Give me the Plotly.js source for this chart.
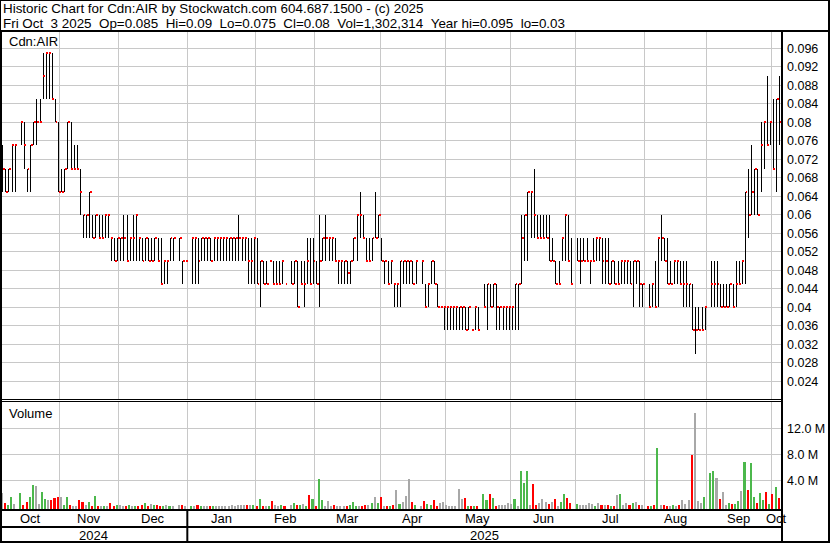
<!DOCTYPE html>
<html><head><meta charset="utf-8">
<script src="https://cdn.plot.ly/plotly-3.0.1.min.js"></script>
<style>
html,body{margin:0;padding:0;background:#fff;overflow:hidden;}
#chart{width:830px;height:543px;}
.js-line{shape-rendering:crispEdges;}
</style></head>
<body><div id="chart"></div>
<script>
// Daily sessions, Oct 4 2024 .. Oct 3 2025 (index 1..251); null = no trade
const hi = [
.075,.07,.07,.075,.075,null,.08,.08,.07,.075,
.08,.085,.085,.095,.095,.095,.095,.085,.08,.07,
.07,.08,.08,.075,.075,.07,.06,.06,.065,.06,
.06,.06,.06,.06,.06,.055,.055,.055,.055,.06,
.06,.055,.06,.06,.055,.055,.055,.055,.055,.055,
.055,.055,.05,.05,.055,.055,null,.055,.05,.05,
null,.055,.055,.055,.055,.055,.055,.055,.055,.055,
.055,.055,.055,.055,.055,.055,.06,.055,.055,.055,
.055,.055,.055,.05,.05,.05,.05,.05,.05,.05,
.05,.045,null,.05,.05,.05,.05,.05,.055,.055,
.055,.05,.06,.055,.06,.055,.055,.055,.05,.05,
.05,.05,.05,.055,.06,.065,.06,.055,.055,.055,
.065,.06,.055,.05,.05,.05,.045,.045,.05,.05,
.05,.05,.05,.05,null,.05,.045,.045,.05,.05,
.045,.04,.04,.04,.04,.04,.04,.04,.04,.04,
.04,.035,.04,.04,null,.045,.045,.045,.045,.045,
.04,.04,.04,.04,.04,.045,.045,.06,.06,.065,
.065,.07,.06,.06,.06,.06,.06,.055,.05,.05,
.055,.06,.06,.055,null,.055,.055,.055,.055,.05,
.055,.055,.055,.055,.055,.055,.05,.05,.05,.05,
.05,.05,.05,.05,.05,.05,.045,null,.045,.045,
.05,.055,.06,.055,.055,.05,.05,.05,.05,.05,
.05,.045,.045,.04,.04,.04,.04,null,.05,.05,
.05,.045,.045,.045,.045,.045,.05,.05,.05,.065,
.07,.075,.07,.07,.08,.08,.09,.08,.085,.085,.09];
const lo = [
.065,.065,.065,.065,.065,null,.075,.07,.065,.065,
.075,.075,.08,.085,.085,.085,.085,.08,.065,.065,
.065,.07,.07,.07,.07,.06,.055,.055,.055,.055,
.055,.055,.055,.055,.055,.05,.05,.05,.05,.05,
.05,.05,.05,.05,.05,.05,.05,.05,.05,.05,
.05,.045,.045,.045,.05,.05,null,.05,.045,.05,
null,.045,.045,.045,.05,.05,.05,.05,.05,.05,
.05,.05,.05,.05,.05,.05,.05,.05,.05,.045,
.045,.045,.045,.04,.045,.045,.05,.045,.045,.045,
.045,.045,null,.045,.045,.04,.045,.04,.045,.045,
.045,.045,.04,.05,.05,.05,.05,.05,.045,.045,
.045,.045,.045,.05,.05,.055,.055,.05,.05,.05,
.055,.055,.05,.045,.045,.045,.04,.04,.04,.045,
.045,.045,.045,.045,null,.045,.04,.04,.045,.045,
.04,.04,.035,.035,.035,.035,.035,.035,.035,.035,
.035,.035,.035,.035,null,.04,.035,.04,.04,.035,
.035,.035,.035,.035,.035,.035,.035,.045,.05,.05,
.055,.055,.055,.055,.055,.055,.05,.05,.045,.045,
.05,.05,.05,.045,null,.05,.045,.05,.05,.045,
.05,.05,.05,.045,.045,.045,.045,.045,.045,.045,
.045,.045,.045,.04,.045,.04,.04,null,.04,.04,
.04,.04,.05,.05,.045,.045,.045,.045,.045,.04,
.04,.04,.035,.03,.035,.035,.035,null,.04,.04,
.04,.04,.04,.04,.04,.04,.04,.045,.045,.045,
.055,.06,.06,.06,.065,.07,.075,.075,.07,.065,.075];
const cl = [
.07,.065,.07,.075,.075,null,.08,.075,.07,.075,
.08,.08,.08,.09,.095,.095,.085,.08,.065,.065,
.07,.08,.07,.07,.07,.065,.06,.06,.065,.055,
.06,.055,.055,.06,.06,.055,.05,.055,.055,.055,
.05,.055,.055,.06,.055,.05,.055,.05,.05,.055,
.05,.045,.05,.05,.055,.055,null,.055,.05,.05,
null,.055,.055,.05,.055,.055,.055,.05,.055,.055,
.055,.055,.055,.055,.055,.055,.055,.055,.055,.05,
.05,.055,.045,.05,.045,.045,.05,.045,.045,.045,
.05,.045,null,.045,.05,.04,.045,.045,.05,.045,
.05,.045,.05,.055,.055,.055,.055,.05,.05,.05,
.05,.0475,.05,.055,.06,.06,.055,.05,.05,.055,
.055,.06,.05,.05,.045,.05,.045,.045,.05,.05,
.05,.05,.045,.05,null,.05,.04,.045,.05,.045,
.04,.04,.04,.04,.04,.04,.04,.04,.04,.035,
.04,.035,.04,.035,null,.04,.045,.04,.045,.04,
.04,.04,.04,.04,.04,.045,.045,.055,.06,.065,
.065,.06,.055,.055,.055,.055,.05,.05,.045,.045,
.055,.06,.05,.045,null,.05,.05,.05,.05,.05,
.05,.055,.055,.05,.05,.045,.05,.045,.045,.05,
.05,.05,.045,.05,.05,.045,.045,null,.04,.045,
.04,.055,.055,.05,.045,.045,.05,.05,.045,.045,
.045,.045,.035,.035,.035,.035,.04,null,.045,.045,
.045,.04,.04,.04,.045,.04,.045,.045,.05,.065,
.06,.065,.07,.06,.075,.08,.075,.08,.07,.085,.08];
// volume, millions of shares
const volM = [
2.05,0.46,0.15,1.43,0.4,null,2.05,0.15,0.7,1.5,
3.3,3.1,0.4,2.2,1.1,0.95,0.95,1.2,1.45,1.45,
0.15,1.45,0.25,0.1,0.05,0.95,0.6,0.15,0.65,0.1,
1.55,0.1,0.1,0.1,0.1,0.5,0.05,0.25,0.2,0.05,
0.05,0.15,0.1,0.05,0.1,0.15,0.5,0.1,0.3,0.25,
0.15,0.05,0.1,0.15,0.05,0.05,null,0.15,0.2,0.05,
null,0.1,0.05,0.25,0.05,0.05,0.1,0.1,0.05,0.1,
0.05,0.1,0.05,0.1,0.15,0.1,0.2,0.15,0.15,0.25,
0.25,0.15,0.1,1.1,0.1,0.1,0.05,0.85,0.25,0.1,
0.15,0.05,null,0.2,0.45,0.25,0.15,0.35,0.1,1.75,
1.05,0.05,4.2,0.95,0.1,0.85,0.05,0.2,0.1,0.1,
0.1,0.1,0.15,0.65,0.1,0.1,0.1,0.15,0.2,0.45,
1.45,0.45,1.45,0.05,0.1,0.1,0.2,2.5,0.35,0.6,
1.6,4.2,0.7,0.25,null,0.05,0.85,0.3,0.25,0.95,
0.1,0.5,0.6,0.15,0.1,0.05,0.05,2.6,1.1,1.25,
0.05,0.05,0.05,0.05,null,1.9,0.95,1.9,1.2,0.1,
0.15,0.15,0.15,0.45,0.35,1.1,0.1,5.5,3.6,5.5,
0.2,3.4,0.2,0.5,1.1,0.65,0.35,0.65,1.1,0.1,
0.65,1.9,1.25,0.5,null,0.35,0.15,0.15,0.15,0.5,
0.35,0.1,0.5,0.2,0.15,0.2,0.1,0.1,1.75,1.9,
0.15,0.5,0.15,0.5,0.65,0.2,0.15,null,0.1,0.1,
0.15,8.9,0.2,0.15,0.05,0.1,0.15,0.05,0.2,0.95,
0.35,0.95,7.9,14.35,0.85,0.5,1.45,null,5.1,5.45,
4.4,1.1,2.2,0.15,0.5,0.35,0.35,0.85,2.35,6.8,
2.5,6.6,1.45,0.5,2.05,0.95,2.2,0.35,1.9,2.98,1.302314];
const volDirOverride = {230:'up', 238:'up', 239:'flat'};

const monthLabels = ['Oct','Nov','Dec','Jan','Feb','Mar','Apr','May','Jun','Jul','Aug','Sep','Oct'];
const monthStart = [20,39,61,83,102,123,144,165,186,208,228,249]; // first session index of Nov..Oct
const yearLabels = ['2024','2025'];
const priceTicks = [0.024,0.028,0.032,0.036,0.04,0.044,0.048,0.052,0.056,0.06,0.064,0.068,0.072,0.076,0.08,0.084,0.088,0.092,0.096];
const priceTickText = ['0.024','0.028','0.032','0.036','0.04','0.044','0.048','0.052','0.056','0.06','0.064','0.068','0.072','0.076','0.08','0.084','0.088','0.092','0.096'];
const volTicks = [4,8,12];
const volTickText = ['4.0 M','8.0 M','12.0 M'];
const titleLine1 = 'Historic Chart for Cdn:AIR by Stockwatch.com 604.687.1500 - (c) 2025';
const titleLine2 = 'Fri Oct  3 2025  Op=0.085  Hi=0.09  Lo=0.075  Cl=0.08  Vol=1,302,314  Year hi=0.095  lo=0.03';
const symbol = 'Cdn:AIR';

// ---------- geometry / style ----------
const PL=2, PR=781, PT=32, PB=509;
const px = x => (x-PL)/(PR-PL);
const py = y => (PB-y)/(PB-PT);
const FONT = 'Liberation Sans, Arial, sans-serif';
const XR = [0.775, 251.42];
const VOLMIN = -0.42;
const GREEN='#4cb84c', RED='#ff0000', GRAY='#a8a8a8';

const N = hi.length;
const idx = hi.map((_,i)=>i+1);

// high-low lines
const hlx=[], hly=[], ckx=[], cky=[];
for(let i=0;i<N;i++){
  if(hi[i]===null) continue;
  hlx.push(idx[i], idx[i], null); hly.push(lo[i], hi[i], null);
  ckx.push(idx[i], idx[i]+0.62, null); cky.push(cl[i], cl[i], null);
}
// volume colours from close-to-close change
const volColor=[]; let prev=null;
for(let i=0;i<N;i++){
  let d='flat';
  if(cl[i]!==null){
    if(prev!==null){ d = cl[i]>prev?'up':(cl[i]<prev?'down':'flat'); }
    prev = cl[i];
  }
  if(volDirOverride[idx[i]]) d = volDirOverride[idx[i]];
  volColor.push(d==='up'?GREEN:(d==='down'?RED:GRAY));
}

const traces = [
  {type:'scatter', mode:'lines', x:hlx, y:hly, line:{color:'#000', width:1}, hoverinfo:'skip', xaxis:'x', yaxis:'y'},
  {type:'scatter', mode:'lines', x:ckx, y:cky, line:{color:RED, width:2}, hoverinfo:'skip', xaxis:'x', yaxis:'y'},
  {type:'bar', x:idx, y:volM.map(v=>v===null?null:v-VOLMIN), base:VOLMIN, width:0.66, offset:-0.66,
   marker:{color:volColor, line:{width:0}}, hoverinfo:'skip', xaxis:'x', yaxis:'y2'}
];

// month boundaries in index space
const grid = monthStart.map(v=>v-0.6);
const bounds = [XR[0], ...grid, XR[1]];
const annotations = [];
monthLabels.forEach((m,k)=>{
  annotations.push({xref:'x', yref:'paper', x:(bounds[k]+bounds[k+1])/2, y:py(518.5), text:m,
    showarrow:false, xanchor:'center', yanchor:'middle', font:{family:FONT, size:13, color:'#000'}});
});
const janGrid = grid[2];
annotations.push({xref:'x', yref:'paper', x:(XR[0]+janGrid)/2-0.4, y:py(535), text:yearLabels[0], showarrow:false, xanchor:'center', yanchor:'middle', font:{family:FONT,size:13,color:'#000'}});
annotations.push({xref:'x', yref:'paper', x:(janGrid+XR[1])/2, y:py(535), text:yearLabels[1], showarrow:false, xanchor:'center', yanchor:'middle', font:{family:FONT,size:13,color:'#000'}});
const sp = s => s.replace(/  /g, ' \u00a0');
annotations.push({xref:'paper', yref:'paper', x:px(1), y:py(8.5), text:sp(titleLine1), showarrow:false, xanchor:'left', yanchor:'middle', font:{family:FONT,size:13.4,color:'#000'}});
annotations.push({xref:'paper', yref:'paper', x:px(1), y:py(23), text:sp(titleLine2), showarrow:false, xanchor:'left', yanchor:'middle', font:{family:FONT,size:13.4,color:'#000'}});
annotations.push({xref:'paper', yref:'paper', x:px(7), y:py(41.5), text:symbol, showarrow:false, xanchor:'left', yanchor:'middle', font:{family:FONT,size:13,color:'#000'}});
annotations.push({xref:'paper', yref:'paper', x:px(7), y:py(413), text:'Volume', showarrow:false, xanchor:'left', yanchor:'middle', font:{family:FONT,size:13,color:'#000'}});

const line = (x0,y0,x1,y1,w)=>({type:'line', xref:'paper', yref:'paper', x0:px(x0), y0:py(y0), x1:px(x1), y1:py(y1), line:{color:'#000', width:w}, layer:'above'});
const shapes = [
  line(0,0.5,830,0.5,1),
  line(0,31,830,31,2),
  line(0.5,0,0.5,31,1),
  line(1,31,1,543,2),
  line(829,0,829,543,2),
  line(782,31,782,543,2),
  line(0,399.5,782,399.5,1),
  line(0,401.5,782,401.5,1),
  line(0,510,782,510,2),
  line(0,527,782,527,2),
  line(0,542,830,542,2),
];
// year separator at the January boundary (data position)
shapes.push({type:'line', xref:'x', yref:'paper', x0:janGrid, x1:janGrid, y0:py(509), y1:py(543), line:{color:'#000',width:2}, layer:'above'});

const layout = {
  width:830, height:543, margin:{l:PL, r:830-PR, t:PT, b:543-PB, pad:0},
  paper_bgcolor:'#fff', plot_bgcolor:'#fff', showlegend:false,
  font:{family:FONT, size:12.5, color:'#000'},
  xaxis:{range:XR, tickvals:grid, showticklabels:false, ticks:'', showgrid:true, gridcolor:'#c8c8c8', gridwidth:1,
         zeroline:false, showline:false, fixedrange:true},
  yaxis:{domain:[py(400),1], range:[0.01996,0.09952], side:'right', tickvals:priceTicks, ticktext:priceTickText,
         showgrid:true, gridcolor:'#c8c8c8', gridwidth:1, ticks:'', zeroline:false, showline:false,
         tickfont:{family:FONT,size:12.5,color:'#000'}, ticklabelstandoff:5, fixedrange:true, anchor:'x'},
  yaxis2:{domain:[0,py(402)], range:[VOLMIN,16.05], side:'right', tickvals:volTicks, ticktext:volTickText,
         showgrid:true, gridcolor:'#c8c8c8', gridwidth:1, ticks:'', zeroline:false, showline:false,
         tickfont:{family:FONT,size:12.5,color:'#000'}, ticklabelstandoff:5, fixedrange:true, anchor:'x'},
  bargap:0, annotations, shapes
};
Plotly.newPlot('chart', traces, layout, {staticPlot:true, displayModeBar:false});
</script>
</body></html>
